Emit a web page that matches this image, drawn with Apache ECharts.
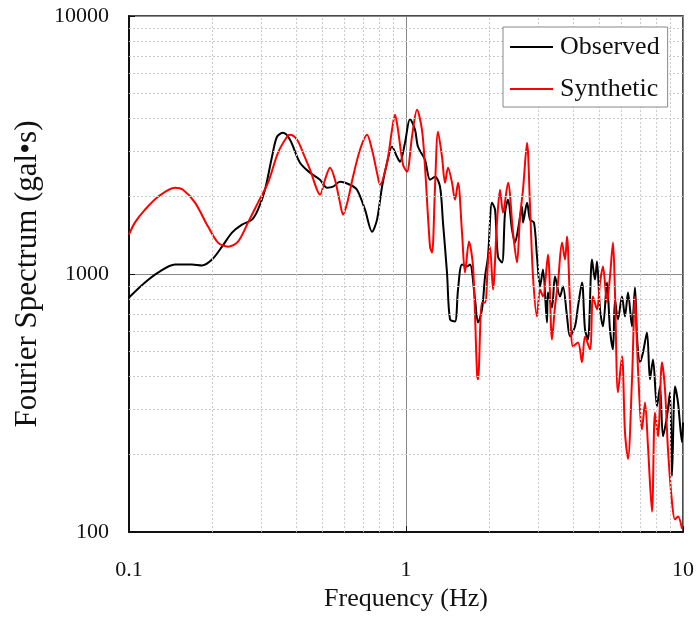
<!DOCTYPE html>
<html>
<head>
<meta charset="utf-8">
<script src="https://cdn.jsdelivr.net/npm/echarts@6/dist/echarts.min.js"></script>
<style>
  html, body { margin: 0; padding: 0; background: #fff; }
  #myChart { width: 698px; height: 617px; }
</style>
</head>
<body>
<div id="myChart"></div>
<script>
  // frequency (Hz) / amplitude (gal*s)
  var obsFreq = [0.1, 0.1142, 0.1273, 0.1466, 0.1688, 0.1834, 0.1994, 0.2167, 0.2354, 0.2558, 0.278, 0.2922, 0.3097, 0.3283, 0.3422, 0.3597, 0.3813, 0.4143, 0.4503, 0.4892, 0.5186, 0.5451, 0.5777, 0.6279, 0.6654, 0.7112, 0.754, 0.786, 0.8193, 0.854, 0.8902, 0.9281, 0.9513, 0.9917, 1.034, 1.078, 1.105, 1.171, 1.221, 1.273, 1.327, 1.36, 1.406, 1.442, 1.503, 1.541, 1.593, 1.661, 1.702, 1.775, 1.82, 1.881, 1.929, 1.977, 2.044, 2.096, 2.148, 2.222, 2.278, 2.335, 2.414, 2.475, 2.537, 2.623, 2.645, 2.735, 2.804, 2.898, 2.971, 3.046, 3.123, 3.228, 3.255, 3.365, 3.451, 3.597, 3.688, 3.813, 3.909, 4.075, 4.178, 4.319, 4.428, 4.539, 4.693, 4.811, 4.892, 5.016, 5.142, 5.316, 5.45, 5.588, 5.681, 5.825, 6.022, 6.174, 6.33, 6.545, 6.71, 6.822, 6.996, 7.172, 7.413, 7.6, 7.792, 8.054, 8.26, 8.468, 8.752, 8.975, 9.125, 9.355, 9.592, 9.917, 10]
  var obsAmp = [811, 927, 1013, 1089, 1089, 1079, 1138, 1277, 1447, 1554, 1625, 1776, 2122, 2848, 3404, 3527, 3314, 2700, 2469, 2320, 2160, 2180, 2279, 2219, 2122, 1776, 1460, 1625, 2180, 2700, 3113, 2848, 2724, 3227, 3990, 3622, 3113, 2773, 2320, 2383, 2180, 1582, 1013, 667, 655, 871, 1089, 1069, 1089, 797, 649, 729, 978, 1169, 1891, 1776, 1169, 1108, 1729, 1942, 1487, 1324, 1487, 1824, 1582, 1891, 1625, 1582, 1169, 895, 1041, 649, 848, 742, 978, 818, 895, 685, 573, 627, 749, 927, 610, 558, 1138, 952, 1118, 729, 627, 927, 610, 511, 797, 667, 818, 685, 848, 627, 887, 573, 455, 497, 594, 391, 467, 307, 367, 235, 281, 348, 165, 367, 318, 223, 266]

  var synFreq = [0.1, 0.105, 0.1142, 0.1273, 0.1466, 0.1566, 0.1731, 0.1929, 0.2096, 0.2277, 0.2475, 0.2689, 0.2922, 0.3176, 0.345, 0.372, 0.3813, 0.4043, 0.4248, 0.4503, 0.4772, 0.4892, 0.51, 0.5317, 0.5542, 0.5777, 0.5924, 0.6175, 0.6437, 0.6823, 0.7232, 0.754, 0.786, 0.8058, 0.854, 0.8902, 0.9128, 0.9357, 0.9755, 1.008, 1.051, 1.096, 1.142, 1.171, 1.221, 1.242, 1.273, 1.305, 1.349, 1.383, 1.418, 1.466, 1.503, 1.541, 1.593, 1.633, 1.688, 1.746, 1.804, 1.82, 1.881, 1.929, 1.977, 2.01, 2.061, 2.13, 2.185, 2.24, 2.335, 2.434, 2.516, 2.58, 2.645, 2.735, 2.804, 2.874, 2.971, 3.046, 3.123, 3.255, 3.365, 3.451, 3.538, 3.658, 3.75, 3.813, 3.909, 4.008, 4.178, 4.319, 4.428, 4.615, 4.732, 4.892, 5.016, 5.142, 5.316, 5.45, 5.588, 5.681, 5.825, 6.022, 6.174, 6.33, 6.545, 6.71, 6.88, 7.112, 7.292, 7.475, 7.727, 7.922, 8.122, 8.398, 8.61, 8.826, 9.125, 9.355, 9.592, 9.917]
  var synAmp = [1422, 1582, 1776, 1994, 2160, 2122, 1891, 1527, 1324, 1277, 1336, 1582, 1891, 2259, 2951, 3404, 3465, 3314, 2951, 2537, 2122, 2030, 2320, 2582, 2320, 1891, 1699, 1942, 2383, 3031, 3465, 3031, 2469, 2219, 2700, 3622, 4140, 3622, 2652, 2492, 3404, 4329, 3622, 2605, 1277, 1211, 2180, 3558, 2848, 2259, 2582, 2259, 1942, 2259, 1447, 1013, 1336, 1069, 416, 391, 776, 776, 1108, 1277, 871, 1582, 2122, 1729, 2259, 1447, 1108, 1669, 2122, 3227, 1824, 978, 685, 871, 818, 1190, 558, 749, 927, 1324, 1138, 1397, 776, 524, 543, 455, 573, 511, 818, 729, 927, 1069, 776, 978, 1324, 848, 348, 480, 244, 192, 391, 818, 427, 250, 318, 215, 120, 291, 235, 455, 357, 209, 131, 112, 115, 103]

  var xTicks = [0.1, 1, 10]
  var yTicks = [100, 1000, 10000]
  var minorX = [0.2, 0.3, 0.4, 0.5, 0.6, 0.7, 0.8, 0.9, 2, 3, 4, 5, 6, 7, 8, 9]
  var minorY = [200, 300, 400, 500, 600, 700, 800, 900, 2000, 3000, 4000, 5000, 6000, 7000, 8000, 9000]

  var font = '"Liberation Serif", "Times New Roman", serif'
  var legendLine = 'path://M0,0 L43,0 L43,2 L0,2 Z'

  function pairs (xs, ys) {
    return xs.map(function (x, i) { return [x, ys[i]] })
  }

  var minorLines = minorX.map(function (v) { return {xAxis: v} })
    .concat(minorY.map(function (v) { return {yAxis: v} }))

  var option1 = {
    animation: false,
    backgroundColor: '#fff',
    grid: {
      left: 129,
      right: 15,
      top: 16,
      bottom: 84,
      show: true,
      borderColor: '#111',
      borderWidth: 1.5
    },
    legend: {
      left: 503,
      top: 27,
      z: 10,
      orient: 'vertical',
      padding: [7, 8, 5, 7],
      itemGap: 16,
      itemWidth: 43,
      itemHeight: 2,
      borderColor: '#888',
      borderWidth: 1,
      backgroundColor: '#fff',
      textStyle: { fontFamily: font, fontSize: 26, color: '#111', padding: [0, 0, 0, 2] },
      data: [
        { name: 'Observed', icon: legendLine, itemStyle: { color: '#000' } },
        { name: 'Synthetic', icon: legendLine, itemStyle: { color: '#f00' } }
      ]
    },
    xAxis: {
      type: 'log',
      logBase: 10,
      min: xTicks[0],
      max: xTicks[xTicks.length - 1],
      name: 'Frequency (Hz)',
      nameLocation: 'middle',
      nameGap: 44,
      nameTextStyle: { fontFamily: font, fontSize: 26, color: '#111' },
      axisLine: { onZero: false, lineStyle: { color: '#111', width: 2 } },
      axisTick: { inside: true, length: 6, lineStyle: { color: '#111' } },
      axisLabel: { fontFamily: font, fontSize: 22, color: '#111', margin: 27,
        formatter: function (v) { return String(+(+v).toPrecision(3)) } },
      splitLine: { show: true, lineStyle: { color: '#888', width: 1 } }
    },
    yAxis: {
      type: 'log',
      logBase: 10,
      min: yTicks[0],
      max: yTicks[yTicks.length - 1],
      name: 'Fourier Spectrum (gal\u2022s)',
      nameLocation: 'middle',
      nameGap: 85,
      nameTextStyle: { fontFamily: font, fontSize: 31, color: '#111' },
      axisLine: { onZero: false, lineStyle: { color: '#111', width: 2 } },
      axisTick: { inside: true, length: 6, lineStyle: { color: '#111' } },
      axisLabel: { fontFamily: font, fontSize: 22, color: '#111', margin: 20,
        formatter: function (v) { return String(Math.round(v)) } },
      splitLine: { show: true, lineStyle: { color: '#888', width: 1 } }
    },
    series: [
      {
        // helper series only for the dashed minor grid
        name: 'minorGrid',
        type: 'line',
        data: [],
        silent: true,
        markLine: {
          silent: true,
          symbol: 'none',
          label: { show: false },
          lineStyle: { color: '#c8c8c8', width: 1, type: [2, 2] },
          data: minorLines
        },
        z: 1
      },
      {
        name: 'Observed',
        type: 'line',
        symbol: 'none',
        smooth: 0.3,
        color: '#000',
        lineStyle: { color: '#000', width: 2 },
        data: pairs(obsFreq, obsAmp),
        z: 2
      },
      {
        name: 'Synthetic',
        type: 'line',
        symbol: 'none',
        smooth: 0.3,
        color: '#f00',
        lineStyle: { color: '#f00', width: 2 },
        data: pairs(synFreq, synAmp),
        z: 3
      }
    ]
  }

  var myChart = echarts.init(document.getElementById('myChart'))
  myChart.setOption(option1)
</script>
</body>
</html>
